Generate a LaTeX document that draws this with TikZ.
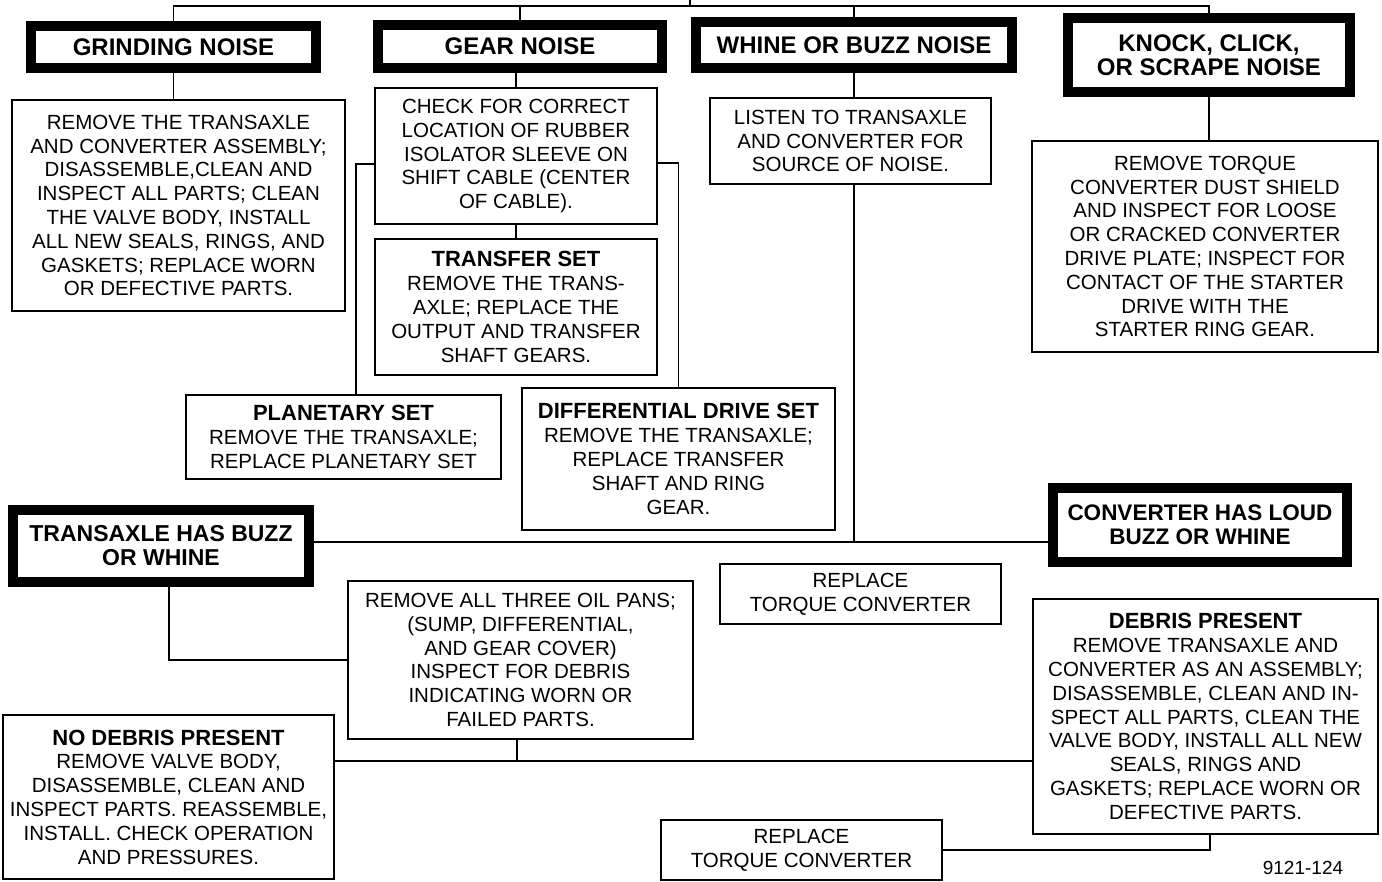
\documentclass[tikz,border=0pt]{standalone}
\usepackage{fontspec}
\setmainfont{Liberation Sans}
\usepackage{tikz}

\begin{document}
\begin{tikzpicture}[x=1pt,y=-1pt,
  hdr/.style={draw,line width=10pt,align=center,inner sep=0pt,font=\bfseries\fontsize{24}{24}\selectfont},
  box/.style={draw,line width=2pt,align=center,inner sep=2pt,font=\fontsize{20.5}{23.8}\selectfont},
  wire/.style={line width=1.8pt}]
\useasboundingbox (0,0) rectangle (1382,882);

\node [hdr,minimum width=285pt,minimum height=42pt] (gr) at (173.5,47) {GRINDING NOISE};
\node [hdr,minimum width=284pt,minimum height=43pt] (ge) at (520,46.5) {GEAR NOISE};
\node [hdr,minimum width=316pt,minimum height=46pt] (wh) at (854,45) {WHINE OR BUZZ NOISE};
\node [hdr,minimum width=282pt,minimum height=74pt] (kn) at (1209,55) {KNOCK, CLICK,\\OR SCRAPE NOISE};
\node [hdr,minimum width=296pt,minimum height=72pt,font=\bfseries\fontsize{23}{24}\selectfont] (tb) at (161,546) {TRANSAXLE HAS BUZZ\\OR WHINE};
\node [hdr,minimum width=294pt,minimum height=74pt,font=\bfseries\fontsize{22.5}{24}\selectfont] (cv) at (1200,525) {CONVERTER HAS LOUD\\BUZZ OR WHINE};

\node [box,minimum width=333pt,minimum height=211pt] (gf) at (178.5,205.5)
  {REMOVE THE TRANSAXLE\\AND CONVERTER ASSEMBLY;\\DISASSEMBLE,CLEAN AND\\INSPECT ALL PARTS; CLEAN\\THE VALVE BODY, INSTALL\\ALL NEW SEALS, RINGS, AND\\GASKETS; REPLACE WORN\\OR DEFECTIVE PARTS.};
\node [box,minimum width=282pt,minimum height=136pt] (ck) at (516,156)
  {CHECK FOR CORRECT\\LOCATION OF RUBBER\\ISOLATOR SLEEVE ON\\SHIFT CABLE (CENTER\\OF CABLE).};
\node [box,minimum width=282pt,minimum height=136pt] (tf) at (516,307)
  {{\bfseries\fontsize{22}{23.8}\selectfont TRANSFER SET}\\REMOVE THE TRANS-\\AXLE; REPLACE THE\\OUTPUT AND TRANSFER\\SHAFT GEARS.};
\node [box,minimum width=315pt,minimum height=84pt] (pl) at (343.5,437)
  {{\bfseries\fontsize{22}{23.8}\selectfont PLANETARY SET}\\REMOVE THE TRANSAXLE;\\REPLACE PLANETARY SET};
\node [box,minimum width=313pt,minimum height=142pt] (df) at (678.5,459)
  {{\bfseries\fontsize{22}{23.8}\selectfont DIFFERENTIAL DRIVE SET}\\REMOVE THE TRANSAXLE;\\REPLACE TRANSFER\\SHAFT AND RING\\GEAR.};
\node [box,minimum width=281pt,minimum height=86pt] (ls) at (850.5,141)
  {LISTEN TO TRANSAXLE\\AND CONVERTER FOR\\SOURCE OF NOISE.};
\node [box,minimum width=346pt,minimum height=211pt] (kf) at (1205,246.5)
  {REMOVE TORQUE\\CONVERTER DUST SHIELD\\AND INSPECT FOR LOOSE\\OR CRACKED CONVERTER\\DRIVE PLATE; INSPECT FOR\\CONTACT OF THE STARTER\\DRIVE WITH THE\\STARTER RING GEAR.};
\node [box,minimum width=281pt,minimum height=60pt] (ra) at (860.5,594)
  {REPLACE\\TORQUE CONVERTER};
\node [box,minimum width=345pt,minimum height=158pt] (ol) at (520.5,660)
  {REMOVE ALL THREE OIL PANS;\\(SUMP, DIFFERENTIAL,\\AND GEAR COVER)\\INSPECT FOR DEBRIS\\INDICATING WORN OR\\FAILED PARTS.};
\node [box,minimum width=331pt,minimum height=164pt] (nd) at (168.5,797)
  {{\bfseries\fontsize{22}{23.8}\selectfont NO DEBRIS PRESENT}\\REMOVE VALVE BODY,\\DISASSEMBLE, CLEAN AND\\INSPECT PARTS. REASSEMBLE,\\INSTALL. CHECK OPERATION\\AND PRESSURES.};
\node [box,minimum width=345pt,minimum height=235pt] (db) at (1205.5,716.5)
  {{\bfseries\fontsize{22}{23.8}\selectfont DEBRIS PRESENT}\\REMOVE TRANSAXLE AND\\CONVERTER AS AN ASSEMBLY;\\DISASSEMBLE, CLEAN AND IN-\\SPECT ALL PARTS, CLEAN THE\\VALVE BODY, INSTALL ALL NEW\\SEALS, RINGS AND\\GASKETS; REPLACE WORN OR\\DEFECTIVE PARTS.};
\node [box,minimum width=281pt,minimum height=60pt] (rb) at (801.5,850)
  {REPLACE\\TORQUE CONVERTER};
\node [font=\fontsize{19}{19}\selectfont,inner sep=0pt] (fig) at (1303,868) {9121-124};

\coordinate (feed) at (690,0);
\coordinate (bus) at (690,6);
\coordinate (jn) at (854,542);
\coordinate (jb) at (517,761);

\draw [wire] (gr.north) |- (bus) -| (kn.north);
\draw [wire] (feed) -- (bus);
\draw [wire] (ge.north) -- (ge.north |- bus);
\draw [wire] (wh.north) -- (wh.north |- bus);
\draw [wire] (gr.south) -- (gr.south |- gf.north);
\draw [wire] (ck.north) -- (ck.north |- ge.south);
\draw [wire] (ck.south) -- (tf.north);
\draw [wire] ([yshift=-8pt]ck.west) -| ([xshift=12.5pt]pl.north);
\draw [wire] ([yshift=-7pt]ck.east) -| (df.north);
\draw [wire] (wh.south) -- (wh.south |- ls.north);
\draw [wire] (wh.south |- ls.south) -- (jn);
\draw [wire] (tb.east |- jn) -- (cv.west |- jn);
\draw [wire] (kn.south) -- (kn.south |- kf.north);
\draw [wire] ([xshift=8pt]tb.south) |- (ol.west);
\draw [wire] (ol.south -| jb) -- (jb);
\draw [wire] (nd.east |- jb) -- (db.west |- jb);
\draw [wire] ([xshift=4.5pt]db.south) |- (rb.east);
\end{tikzpicture}
\end{document}
